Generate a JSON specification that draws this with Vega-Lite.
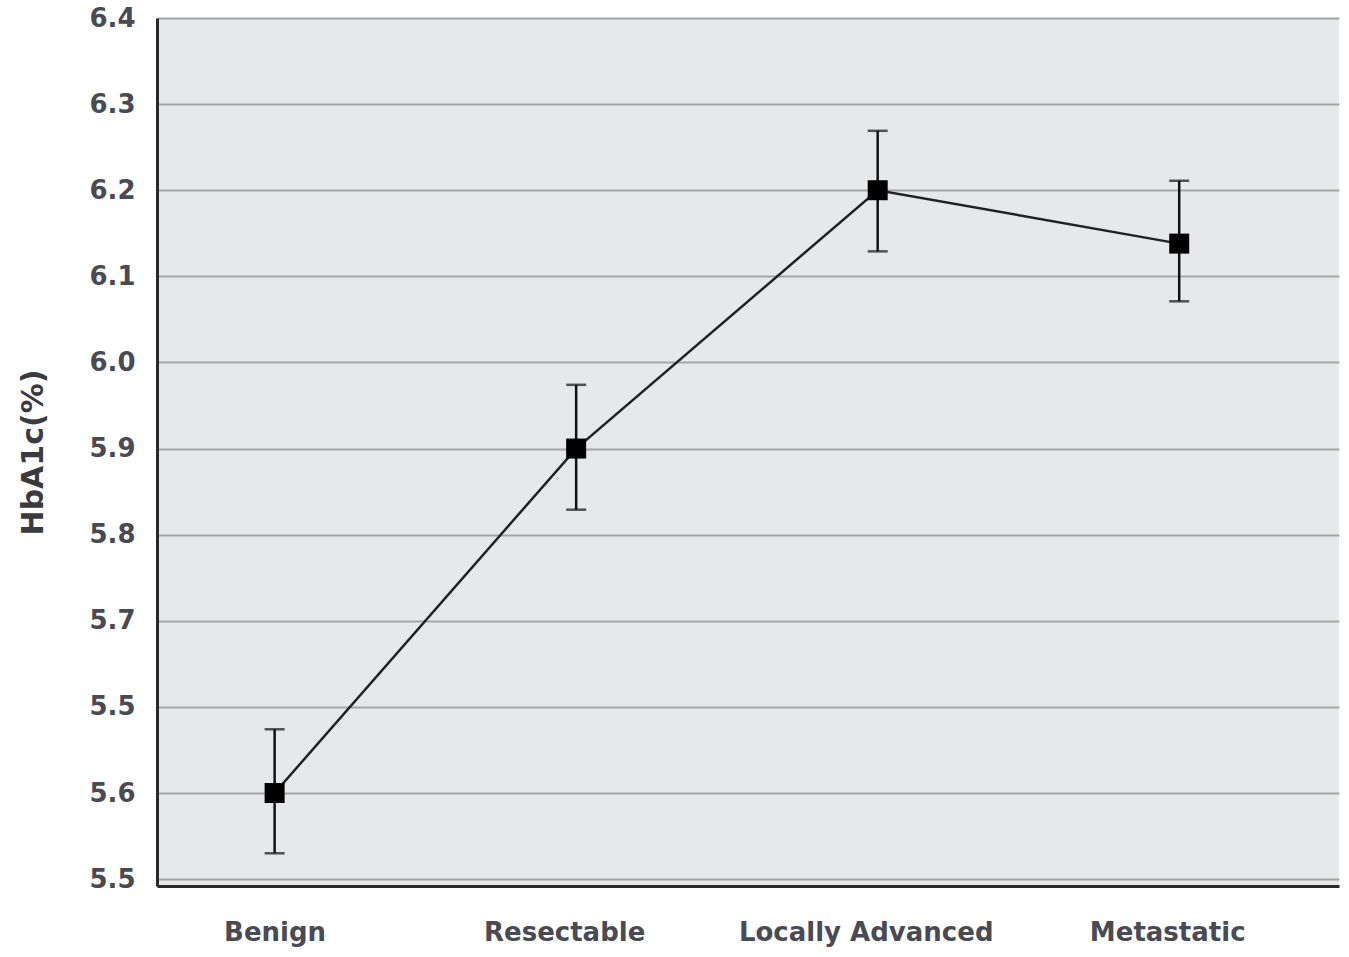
{
  "$schema": "https://vega.github.io/schema/vega-lite/v6.json",
  "autosize": "none",
  "width": 1182,
  "height": 868,
  "padding": {"left": 157, "top": 18, "right": 10, "bottom": 71},
  "background": "white",
  "config": {
    "view": {"fill": "#e6e8ea", "stroke": null},
    "axis": {"labelFont": "DejaVu Sans", "titleFont": "DejaVu Sans"}
  },
  "data": {
    "values": [
      {"group": "Benign", "mean": 5.5, "lo": 5.43, "hi": 5.574},
      {"group": "Resectable", "mean": 5.9, "lo": 5.829, "hi": 5.974},
      {"group": "Locally Advanced", "mean": 6.2, "lo": 6.129, "hi": 6.269},
      {"group": "Metastatic", "mean": 6.138, "lo": 6.071, "hi": 6.211}
    ]
  },
  "encoding": {
    "x": {
      "field": "group",
      "type": "nominal",
      "sort": ["Benign", "Resectable", "Locally Advanced", "Metastatic"],
      "scale": {"type": "point", "padding": 0.46, "align": 0.424},
      "axis": {
        "title": null,
        "labelAngle": 0,
        "labelFontSize": 26,
        "labelFontWeight": "bold",
        "labelColor": "#4a4a55",
        "labelPadding": 33,
        "labelLimit": 0,
        "ticks": false,
        "grid": false,
        "domainColor": "#2a2a2a",
        "domainWidth": 3,
        "labelOffset": {"condition": {"test": "datum.value == 'Benign'", "value": 0}, "value": -12}
      }
    }
  },
  "layer": [
    {
      "mark": {"type": "rule", "color": "#111111", "strokeWidth": 2.5},
      "encoding": {
        "y": {
          "field": "lo",
          "type": "quantitative",
          "scale": {"domain": [5.392, 6.4], "nice": false, "zero": false},
          "axis": {
            "title": "HbA1c(%)",
            "titleFontSize": 30,
            "titleColor": "#3a3a40",
            "titleFontWeight": "bold",
            "titlePadding": 40,
            "values": [5.4, 5.5, 5.6, 5.7, 5.8, 5.9, 6.0, 6.1, 6.2, 6.3, 6.4],
            "labelExpr": "abs(datum.value - 5.4) < 0.01 ? '5.5' : abs(datum.value - 5.5) < 0.01 ? '5.6' : abs(datum.value - 5.6) < 0.01 ? '5.5' : format(datum.value, '.1f')",
            "labelFontSize": 26,
            "labelFontWeight": "bold",
            "labelColor": "#4a4a55",
            "labelPadding": 22,
            "ticks": false,
            "grid": true,
            "gridColor": "#a3a5a7",
            "gridWidth": 2,
            "domainColor": "#2a2a2a",
            "domainWidth": 3
          }
        },
        "y2": {"field": "hi"}
      }
    },
    {
      "mark": {"type": "tick", "color": "#111111", "thickness": 2.5, "size": 20},
      "encoding": {"y": {"field": "lo", "type": "quantitative"}}
    },
    {
      "mark": {"type": "tick", "color": "#111111", "thickness": 2.5, "size": 20},
      "encoding": {"y": {"field": "hi", "type": "quantitative"}}
    },
    {
      "mark": {"type": "line", "color": "#222222", "strokeWidth": 2.5},
      "encoding": {"y": {"field": "mean", "type": "quantitative"}}
    },
    {
      "mark": {"type": "point", "shape": "square", "filled": true, "size": 400, "color": "#000000", "opacity": 1},
      "encoding": {"y": {"field": "mean", "type": "quantitative"}}
    }
  ]
}
